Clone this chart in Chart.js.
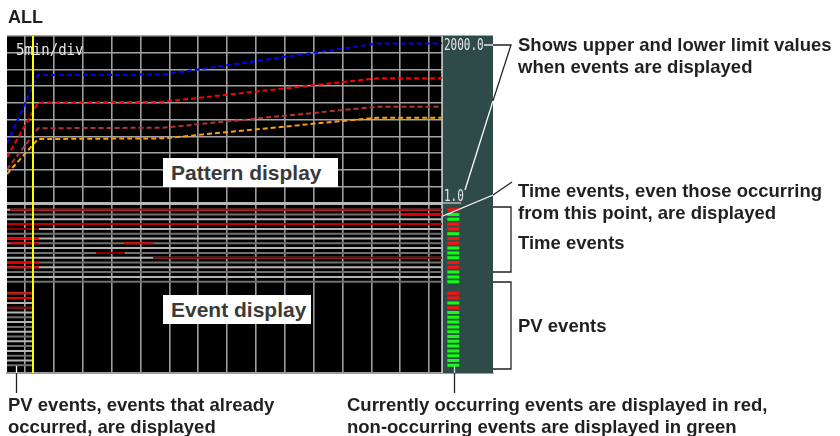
<!DOCTYPE html>
<html>
<head>
<meta charset="utf-8">
<script src="https://cdn.jsdelivr.net/npm/chart.js@4.4.0/dist/chart.umd.min.js"></script>
<style>
body { margin: 0; background: #fff; }
#wrap { position: relative; width: 840px; height: 436px; overflow: hidden; font-family: "Liberation Sans", Arial, sans-serif; }
#chart { position: absolute; left: 0; top: 0; }
.t { position: absolute; font-weight: bold; font-size: 18.5px; line-height: 21.7px; color: #231f20; white-space: nowrap; }
.box { position: absolute; background: #fff; color: #3a3a3a; font-weight: bold; font-size: 21px; line-height: 29px; box-sizing: border-box; padding-left: 8px; white-space: nowrap; }
.mono { position: absolute; font-family: "DejaVu Sans Mono", monospace; color: #e6e6e6; white-space: pre; transform-origin: 0 0; }
</style>
</head>
<body>
<div id="wrap">
  <canvas id="chart" width="840" height="436"></canvas>
  <div class="t" style="left:8px;top:7px;font-size:18px;">ALL</div>
  <div class="mono" style="left:16px;top:41px;font-size:14px;line-height:14px;transform:scaleY(1.15);">5min/div</div>
  <div class="mono" style="left:444px;top:36px;font-size:11px;line-height:11px;transform:scaleY(1.5);">2000.0</div>
  <div class="mono" style="left:444px;top:187px;font-size:11px;line-height:11px;transform:scaleY(1.5);">1.0</div>
  <div class="box" style="left:163px;top:158px;width:175px;height:29px;">Pattern display</div>
  <div class="box" style="left:163px;top:295px;width:148px;height:29px;">Event display</div>
  <div class="t" style="left:518px;top:34px;">Shows upper and lower limit values<br>when events are displayed</div>
  <div class="t" style="left:518px;top:180px;">Time events, even those occurring<br>from this point, are displayed</div>
  <div class="t" style="left:518px;top:232px;">Time events</div>
  <div class="t" style="left:518px;top:315px;">PV events</div>
  <div class="t" style="left:8px;top:394px;">PV events, events that already<br>occurred, are displayed</div>
  <div class="t" style="left:347px;top:394px;">Currently occurring events are displayed in red,<br>non-occurring events are displayed in green</div>
</div>
<script>
// time axis in minutes, 5 min per division
const xGrid = [0, 5, 10, 15, 20, 25, 30, 35, 40, 45, 50, 55, 60, 65, 70];
const patternGrid = [0, 200, 400, 600, 800, 1000, 1200, 1400, 1600, 1800, 2000];
const nowTime = 1.39;

// pattern display (value 1.0 .. 2000.0)
const patternTimes = [-3.12, 2.25, 23.9, 61, 72.25];
const blueSeries = [719, 1534, 1540, 1910, 1912];
const redSeries = [552, 1204, 1215, 1495, 1495];
const brownSeries = [408, 898, 905, 1156, 1156];
const orangeSeries = [352, 770, 778, 1025, 1025];

// event display: 16 time event rows, 16 PV event rows
const timeRows = [0, 1, 2, 3, 4, 5, 6, 7, 8, 9, 10, 11, 12, 13, 14, 15];
const pvRows = [0, 1, 2, 3, 4, 5, 6, 7, 8, 9, 10, 11, 12, 13, 14, 15];
// [row, start min, end min]
const timeRed = [[1, 65.3, 72.25], [6, -3.12, 2.43], [7, -2.6, 2.43], [7, 17.15, 22.35], [11, -3.12, 2.43], [12, -3.12, 2.43]];
const timeMidRed = [[0, -2.6, 72.25], [3, -3.12, 72.25]];
const timeDarkRed = [[4, -3.12, 2.43], [9, 12.3, 17.3], [10, 22.2, 72.25]];
const pvRed = [[0, -3.12, 1.21], [1, -3.12, 1.21]];
const pvDarkRed = [[3, -3.12, 1.21]];
// current state shown on the right panel (1 = occurring)
const timeNow = [1, 0, 0, 1, 1, 0, 1, 1, 0, 0, 0, 1, 1, 0, 0, 0];
const pvNow = [1, 1, 0, 1, 0, 0, 0, 0, 0, 0, 0, 0, 0, 0, 0, 0];

const PV_OFFSET = 17.42;
const SCREEN_END = 72.25;
const MARK_START = 73.16, MARK_END = 75.24;

function segData(segs, offset) {
    const out = [];
    segs.forEach(([r, a, b]) => {
        out.push({ x: a, y: r + offset }, { x: b, y: r + offset }, { x: b, y: null });
    });
    return out;
}

function segLine(label, data, color, width, order) {
    return {
        label, data, borderColor: color, borderWidth: width, pointRadius: 0,
        borderCapStyle: 'butt', spanGaps: false, tension: 0, yAxisID: 'yE', order
    };
}

function patternLine(label, values, color) {
    return {
        label, data: patternTimes.map((t, i) => ({ x: t, y: values[i] })),
        borderColor: color, borderWidth: 2, borderDash: [5, 3], pointRadius: 0,
        tension: 0, yAxisID: 'y', order: 2
    };
}

const grayEven = [], grayOdd = [];
timeRows.forEach(r => (r % 2 ? grayOdd : grayEven).push([r, -3.12, SCREEN_END]));
const pvGrayEven = [], pvGrayOdd = [];
pvRows.forEach(r => (r % 2 ? pvGrayOdd : pvGrayEven).push([r, -3.12, 1.21]));

const markOn = [], markOff = [];
timeNow.forEach((v, r) => (v ? markOn : markOff).push({ r, o: 0 }));
pvNow.forEach((v, r) => (v ? markOn : markOff).push({ r, o: PV_OFFSET }));
function markData(list) {
    const out = [];
    list.forEach(m => out.push({ x: MARK_START, y: m.r + m.o }, { x: MARK_END, y: m.r + m.o }, { x: MARK_END, y: null }));
    return out;
}

const screenPlugin = {
    id: 'screen',
    beforeDraw(chart) {
        const { ctx, chartArea: a, scales: { x } } = chart;
        ctx.save();
        ctx.fillStyle = '#000';
        ctx.fillRect(a.left, a.top, x.getPixelForValue(SCREEN_END) - a.left, a.bottom - a.top);
        ctx.restore();
    },
    beforeDatasetsDraw(chart) {
        const { ctx, chartArea: a, scales: { x } } = chart;
        const px = x.getPixelForValue(SCREEN_END);
        ctx.save();
        ctx.fillStyle = '#2f4b49';
        ctx.fillRect(px, a.top, a.right - px, a.bottom - a.top);
        ctx.strokeStyle = '#d8d8d8';
        ctx.lineWidth = 1.5;
        ctx.beginPath();
        ctx.moveTo(px, a.top);
        ctx.lineTo(px, a.bottom);
        ctx.stroke();
        ctx.restore();
    },
    afterDatasetsDraw(chart) {
        const { ctx, chartArea: a, scales: { x } } = chart;
        const px = Math.round(x.getPixelForValue(nowTime));
        ctx.save();
        ctx.strokeStyle = '#ffff00';
        ctx.lineWidth = 2;
        ctx.beginPath();
        ctx.moveTo(px, a.top);
        ctx.lineTo(px, a.bottom);
        ctx.stroke();
        ctx.restore();
    },
    afterDraw(chart) {
        const ctx = chart.ctx;
        const line = (pts, color, w) => {
            ctx.strokeStyle = color;
            ctx.lineWidth = w || 1.3;
            ctx.beginPath();
            pts.forEach((p, i) => i ? ctx.lineTo(p[0], p[1]) : ctx.moveTo(p[0], p[1]));
            ctx.stroke();
        };
        ctx.save();
        // leader lines for the limit values
        line([[484, 45], [493, 45]], '#fff');
        line([[493, 45], [511, 45], [493, 100.9]], '#231f20');
        line([[493, 100.9], [465, 190]], '#fff');
        // leader for time events
        line([[512, 182], [493, 195]], '#231f20');
        line([[493, 195], [443, 216]], '#fff');
        // brackets
        line([[493, 207], [511, 207], [511, 272], [493, 272]], '#231f20');
        line([[493, 282], [511, 282], [511, 369], [493, 369]], '#231f20');
        // pointers to the bottom texts
        line([[454.5, 366], [454.5, 373]], '#ccc');
        line([[454.5, 373], [454.5, 393]], '#231f20');
        line([[16.5, 366], [16.5, 373]], '#fff');
        line([[16.5, 373], [16.5, 393]], '#231f20');
        // underline below 1.0
        line([[443, 203], [461, 203]], '#9a9a9a', 2);
        ctx.restore();
    }
};

new Chart(document.getElementById('chart'), {
    type: 'line',
    data: {
        datasets: [
            segLine('marks on', markData(markOn), '#ff1010', 3, 1),
            segLine('marks off', markData(markOff), '#10ff10', 3, 1),
            patternLine('blue', blueSeries, '#0000ff'),
            patternLine('red', redSeries, '#ff0000'),
            patternLine('brown', brownSeries, '#b03434'),
            patternLine('orange', orangeSeries, '#ffa000'),
            segLine('time red', segData(timeRed, 0), '#e80000', 2, 5),
            segLine('time mid red', segData(timeMidRed, 0), '#c00000', 2, 5),
            segLine('time dark red', segData(timeDarkRed, 0), '#8a0000', 2, 5),
            segLine('pv red', segData(pvRed, PV_OFFSET), '#e80000', 2, 5),
            segLine('pv dark red', segData(pvDarkRed, PV_OFFSET), '#8a0000', 2, 5),
            segLine('time rows a', segData(grayEven, 0), '#b4b4b4', 2, 10),
            segLine('time rows b', segData(grayOdd, 0), '#707070', 2, 10),
            segLine('pv rows a', segData(pvGrayEven, PV_OFFSET), '#b4b4b4', 2, 10),
            segLine('pv rows b', segData(pvGrayOdd, PV_OFFSET), '#707070', 2, 10)
        ]
    },
    options: {
        responsive: false,
        animation: false,
        events: [],
        layout: { padding: { left: 7, top: 36, right: 347, bottom: 63 } },
        plugins: { legend: { display: false }, tooltip: { enabled: false } },
        scales: {
            x: {
                type: 'linear', min: -3.12, max: 81.08,
                afterBuildTicks: s => { s.ticks = xGrid.map(v => ({ value: v })); },
                ticks: { display: false },
                grid: { color: '#9c9c9c', lineWidth: 1.6, drawTicks: false },
                border: { display: true, color: '#9c9c9c', width: 2 }
            },
            y: {
                type: 'linear', min: -2023.9, max: 2000,
                afterBuildTicks: s => { s.ticks = patternGrid.map(v => ({ value: v })); },
                ticks: { display: false },
                grid: {
                    drawTicks: false,
                    color: c => c.tick && c.tick.value === 0 ? '#b8b8b8' : '#a4a4a4',
                    lineWidth: c => c.tick && c.tick.value === 0 ? 3 : 1.6
                },
                border: { display: false }
            },
            yE: { type: 'linear', reverse: true, min: -36.19, max: 34.02, display: false }
        }
    },
    plugins: [screenPlugin]
});
</script>
</body>
</html>
